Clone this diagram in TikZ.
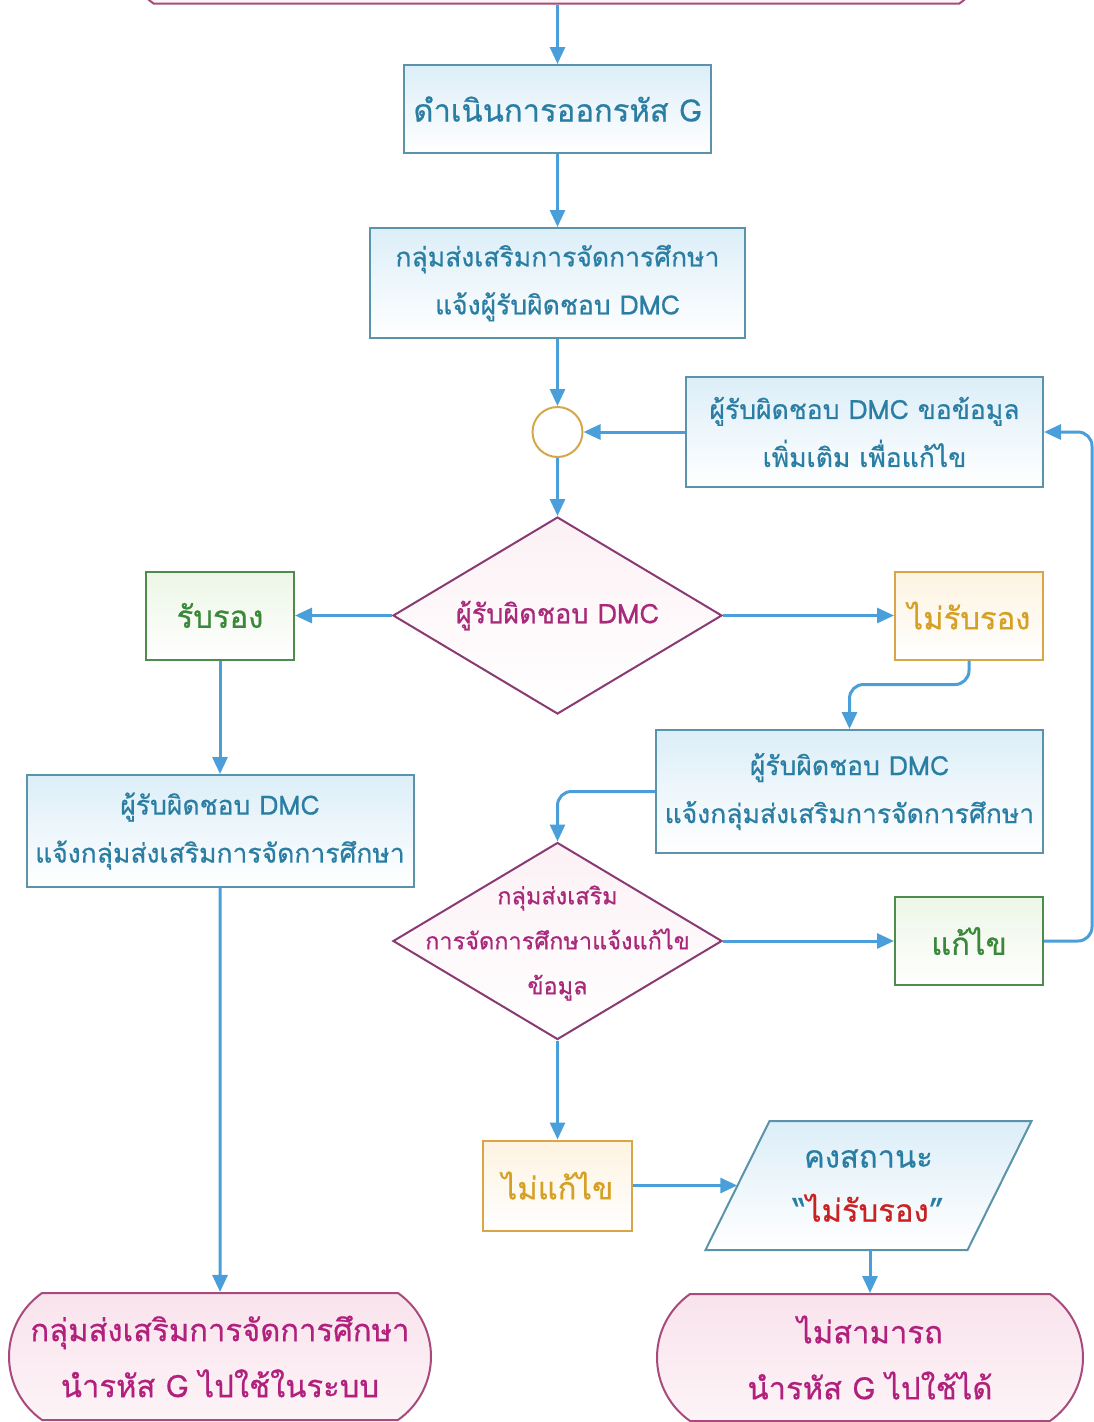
\documentclass[tikz,border=0pt]{standalone}
\usepackage{fontspec}
\setmainfont[Script=Thai,FakeBold=0.6]{Loma}
\usetikzlibrary{shapes.geometric,shapes.misc,arrows.meta}
\definecolor{arrowc}{HTML}{4A9FDA}
\definecolor{procline}{HTML}{5A93AA}
\definecolor{proctext}{HTML}{2B7EA3}
\definecolor{procfill}{HTML}{DCEEF8}
\definecolor{decline}{HTML}{8A3A72}
\definecolor{dectext}{HTML}{A8287A}
\definecolor{okline}{HTML}{4E8C4E}
\definecolor{oktext}{HTML}{3A883A}
\definecolor{okfill}{HTML}{EDF6E6}
\definecolor{noline}{HTML}{D9A548}
\definecolor{notext}{HTML}{D6A024}
\definecolor{nofill}{HTML}{FDF3E0}
\definecolor{termline}{HTML}{A84A7C}
\definecolor{termfill}{HTML}{F9E3EC}
\definecolor{termtext}{HTML}{B0207C}
\definecolor{redc}{HTML}{C82222}
\definecolor{juncline}{HTML}{D4A848}
\tikzset{
  arr/.style={draw=arrowc, line width=3, -{Triangle[length=17,width=15]}},
  proc/.style={rectangle, draw=procline, line width=2, top color=procfill, bottom color=white,
    text=proctext, align=center, inner sep=0, font=\fontsize{26.5}{48}\selectfont},
  decbox/.style={diamond, draw=decline, line width=2, top color=termfill!50, bottom color=white,
    inner sep=0, minimum width=329, minimum height=197},
  dectxt/.style={text=dectext, align=center, inner sep=0},
  okbox/.style={rectangle, draw=okline, line width=2, top color=okfill, bottom color=white,
    text=oktext, inner sep=0, minimum width=148, minimum height=88, font=\fontsize{31}{36}\selectfont},
  nobox/.style={rectangle, draw=noline, line width=2, top color=nofill, bottom color=white,
    text=notext, inner sep=0, minimum width=148, minimum height=88, font=\fontsize{31}{36}\selectfont},
  term/.style={rounded rectangle, rounded rectangle arc length=110, draw=termline, line width=2,
    top color=termfill, bottom color=termfill!40, text=termtext, align=center, inner sep=0,
    minimum height=127, font=\fontsize{31}{56}\selectfont},
  junc/.style={circle, draw=juncline, line width=2, fill=white, minimum size=50, inner sep=0},
  parbox/.style={rectangle, text=proctext, align=center, inner sep=0,
    minimum width=262, minimum height=129, font=\fontsize{31}{54}\selectfont},
  parline/.style={draw=procline, line width=2, top color=procfill, bottom color=white}
}
\begin{document}
\begin{tikzpicture}[x=1pt,y=-1pt]
\useasboundingbox (0,0) rectangle (1094,1422);
\clip (0,0) rectangle (1094,1422);
\fill[white] (0,0) rectangle (1094,1422);

\node[term, minimum width=872] (t0) at (556.5,-60) {};
\node[proc, minimum width=307, minimum height=88, font=\fontsize{31}{40}\selectfont] (b1) at (557.5,109) {ดำเนินการออกรหัส G};
\node[proc, minimum width=375, minimum height=110] (b2) at (557.5,283) {กลุ่มส่งเสริมการจัดการศึกษา\\แจ้งผู้รับผิดชอบ DMC};
\node[junc] (c) at (557.5,432) {};
\node[proc, minimum width=357, minimum height=110] (b3) at (864.5,432) {ผู้รับผิดชอบ DMC ขอข้อมูล\\เพิ่มเติม เพื่อแก้ไข};
\node[decbox] (d1) at (557.5,615.5) {};
\node[dectxt, font=\fontsize{27}{40}\selectfont] (d1t) at (d1) {ผู้รับผิดชอบ DMC};
\node[okbox] (yes) at (220,615.5) {รับรอง};
\node[nobox] (no) at (969,615.5) {ไม่รับรอง};
\node[proc, minimum width=387, minimum height=123] (b4) at (849.5,791.5) {ผู้รับผิดชอบ DMC\\แจ้งกลุ่มส่งเสริมการจัดการศึกษา};
\node[decbox] (d2) at (557.5,941) {};
\node[dectxt, font=\fontsize{23.5}{45}\selectfont] (d2t) at (557.5,943) {กลุ่มส่งเสริม\\การจัดการศึกษาแจ้งแก้ไข\\ข้อมูล};
\node[okbox] (fix) at (969,941) {แก้ไข};
\node[nobox, minimum width=149, minimum height=90] (nofix) at (557.5,1185.5) {ไม่แก้ไข};
\path[parline] (769.5,1121) -- (1031.5,1121) -- (967.5,1250) -- (705.5,1250) -- cycle;
\node[parbox] (keep) at (868.5,1185.5) {คงสถานะ\\\textcolor{proctext}{“}\textcolor{redc}{ไม่รับรอง}\textcolor{proctext}{”}};
\node[term, minimum width=426] (tr) at (870,1357.5) {ไม่สามารถ\\นำรหัส G ไปใช้ได้};
\node[proc, minimum width=387, minimum height=112] (b5) at (220,831) {ผู้รับผิดชอบ DMC\\แจ้งกลุ่มส่งเสริมการจัดการศึกษา};
\node[term, minimum width=422] (tl) at (220,1356.5) {กลุ่มส่งเสริมการจัดการศึกษา\\นำรหัส G ไปใช้ในระบบ};

\draw[arr] (b1.north |- t0.south) -- (b1.north);
\draw[arr] (b1) -- (b2);
\draw[arr] (b2) -- (c);
\draw[arr] (b3) -- (c);
\draw[arr] (c) -- (d1);
\draw[arr] (d1) -- (yes);
\draw[arr] (d1) -- (no);
\draw[arr, rounded corners=14] (no.south) -- ++(0,24) -| (b4.north);
\draw[arr, rounded corners=14] (b4.west) -| (d2.north);
\draw[arr] (d2) -- (fix);
\draw[arr, rounded corners=14] (fix.east) -- ++(48,0) |- (b3.east);
\draw[arr] (d2) -- (nofix);
\draw[arr] (nofix) -- (keep);
\draw[arr] (keep.south -| tr.north) -- (tr.north);
\draw[arr] (yes) -- (b5);
\draw[arr] (b5) -- (tl);
\end{tikzpicture}
\end{document}
